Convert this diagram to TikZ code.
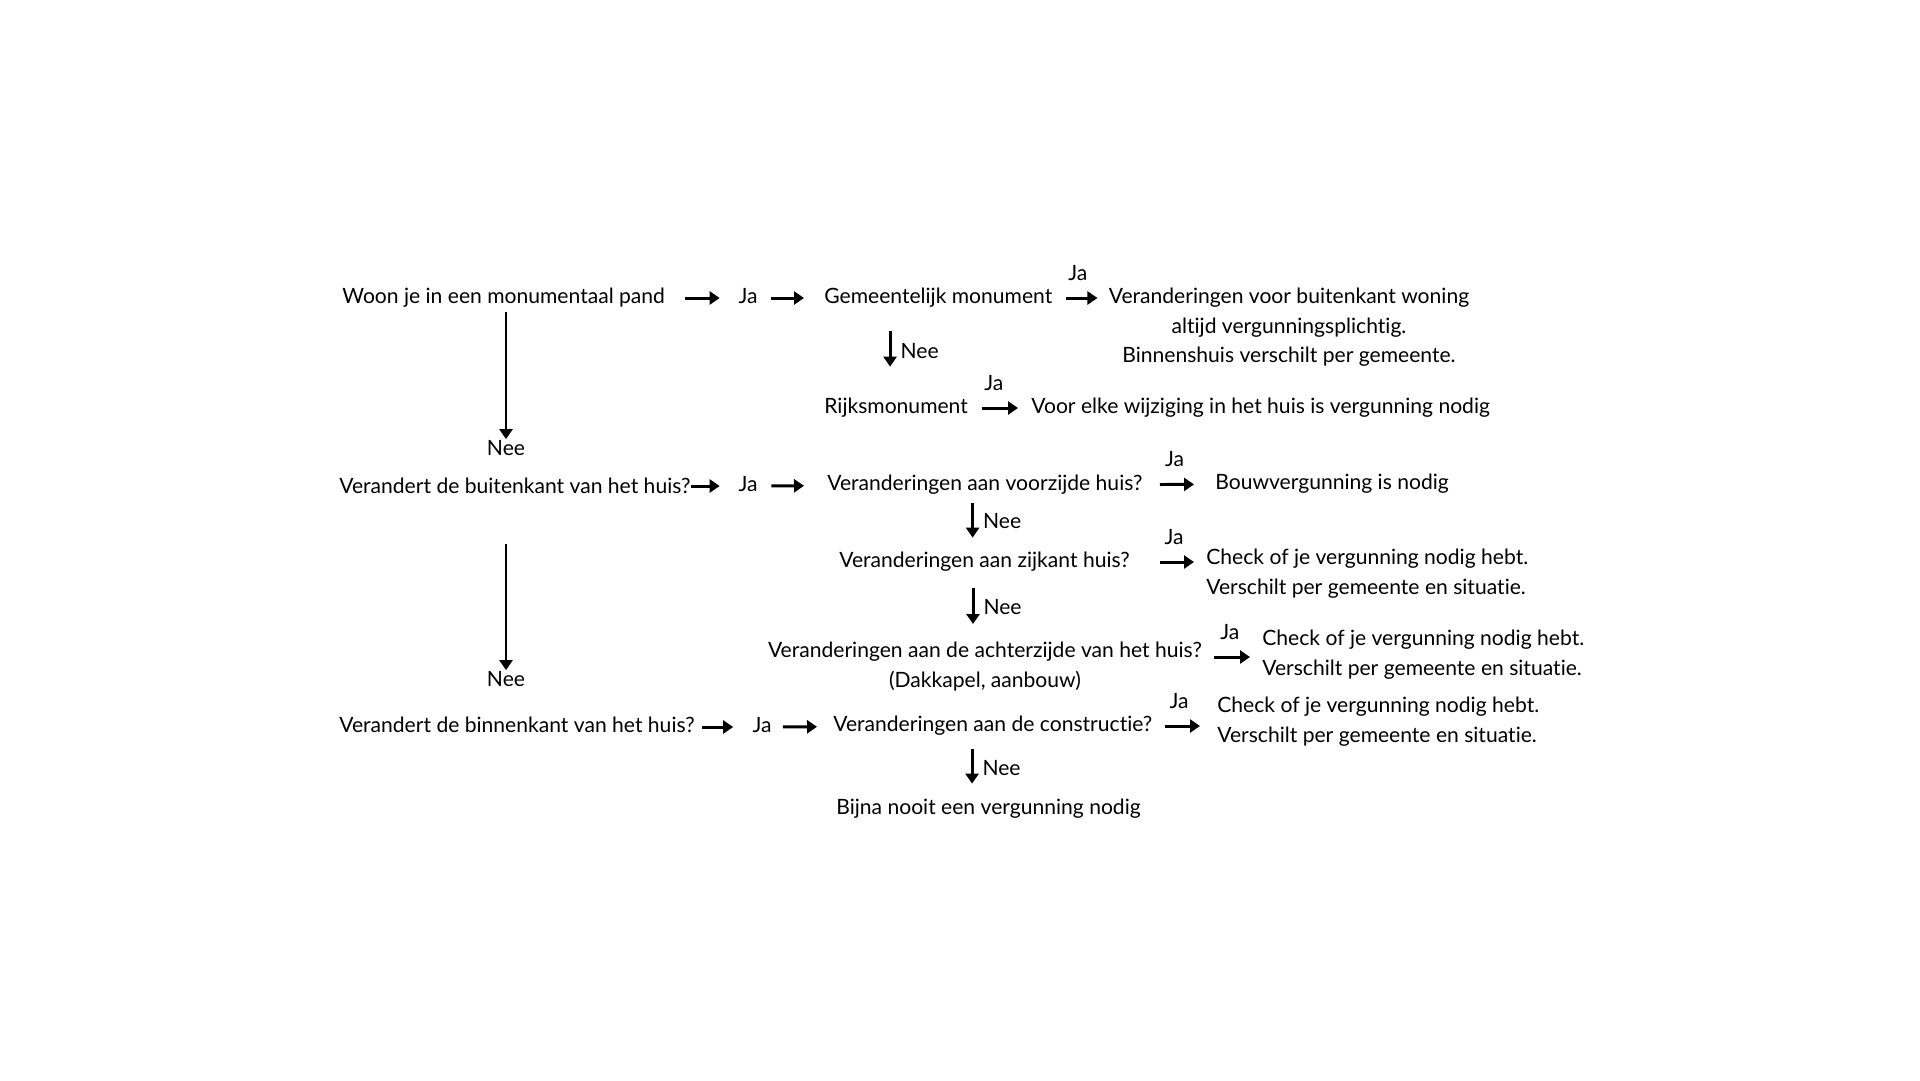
\documentclass[tikz,border=0pt]{standalone}
\usepackage{fontspec}
\setmainfont{Lato}[Ligatures={NoCommon,NoContextual}]
\usetikzlibrary{arrows.meta}
\tikzset{
  txt/.style={inner sep=0, text height=9pt, text depth=3pt},
  multi/.style={inner sep=0},
  arr/.style={line width=1.7pt, -{Triangle[length=0.2cm,width=0.26cm]}},
  ja/.style={txt, above=0.22cm},
  nee/.style={txt, right=0.18cm},
}
\begin{document}
\begin{tikzpicture}[x=0.02cm, y=-0.02cm, font=\fontsize{12}{16.8}\selectfont]
  \fill[white] (0,-3) rectangle (1920,1077);
  % monument
  \node[txt, anchor=west] (woon) at (342,295) {Woon je in een monumentaal pand};
  \node[txt] (ja1) at (748,295) {Ja};
  \node[txt, anchor=west] (gem) at (824,295) {Gemeentelijk monument};
  \node[multi, align=center, anchor=north] (bui) at (1289,285)
    {Veranderingen voor buitenkant woning\\altijd vergunningsplichtig.\\Binnenshuis verschilt per gemeente.};
  \node[txt, anchor=west] (rijk) at (824,405) {Rijksmonument};
  \node[txt, anchor=west] (wijz) at (1031,405) {Voor elke wijziging in het huis is vergunning nodig};
  % buitenkant
  \node[txt] (nee1) at (506,447) {Nee};
  \node[txt, anchor=west] (buiten) at (339,485) {Verandert de buitenkant van het huis?};
  \node[txt] (ja2) at (748,483) {Ja};
  \node[txt, anchor=west] (voor) at (827,482) {Veranderingen aan voorzijde huis?};
  \node[txt, anchor=west] (bouw) at (1215,481) {Bouwvergunning is nodig};
  \node[txt, anchor=west] (zij) at (839,559) {Veranderingen aan zijkant huis?};
  \node[multi, align=left, anchor=north west] (chk1) at (1206,546)
    {Check of je vergunning nodig hebt.\\Verschilt per gemeente en situatie.};
  \node[multi, align=center, anchor=north] (achter) at (985,639)
    {Veranderingen aan de achterzijde van het huis?\\(Dakkapel, aanbouw)};
  \node[multi, align=left, anchor=north west] (chk2) at (1262,627)
    {Check of je vergunning nodig hebt.\\Verschilt per gemeente en situatie.};
  % binnenkant
  \node[txt] (nee2) at (506,678) {Nee};
  \node[txt, anchor=west] (binnen) at (339,724) {Verandert de binnenkant van het huis?};
  \node[txt] (ja3) at (762,724) {Ja};
  \node[txt, anchor=west] (con) at (833,723) {Veranderingen aan de constructie?};
  \node[multi, align=left, anchor=north west] (chk3) at (1217,694)
    {Check of je vergunning nodig hebt.\\Verschilt per gemeente en situatie.};
  \node[txt, anchor=west] (bijna) at (836,806) {Bijna nooit een vergunning nodig};

  \draw[arr, shorten <=0.4cm, shorten >=0.37cm] (woon) -- (ja1);
  \draw[arr, shorten <=0.27cm, shorten >=0.4cm] (ja1) -- (gem);
  \draw[arr, shorten <=0.26cm, shorten >=0.22cm] (gem.east) -- (gem -| bui.west)
    node[ja, pos=0.45] {Ja};
  \draw[arr, shorten <=0.45cm, shorten >=0.61cm] ([xshift=-0.12cm]rijk.north |- gem.south) -- ([xshift=-0.12cm]rijk.north)
    node[nee, pos=0.5] {Nee};
  \draw[arr, shorten <=0.28cm, shorten >=0.26cm] (rijk) -- (wijz)
    node[ja, pos=0.41] {Ja};
  \draw[arr, shorten <=0.07cm] (nee1 |- woon.south) -- (nee1.north);

  \draw[arr, shorten >=0.37cm] (buiten.east |- ja2) -- (ja2);
  \draw[arr, shorten <=0.27cm, shorten >=0.46cm] (ja2) -- (voor);
  \draw[arr, shorten <=0.34cm, shorten >=0.42cm] (voor) -- (bouw)
    node[ja, pos=0.44] {Ja};
  \draw[arr, shorten <=0.15cm, shorten >=0.27cm] ([xshift=-0.24cm]zij.north |- voor.south) -- ([xshift=-0.24cm]zij.north)
    node[nee, pos=0.49] {Nee};
  \draw[arr, shorten <=0.6cm, shorten >=0.24cm] (zij) -- (zij -| chk1.west)
    node[ja, pos=0.58] {Ja};
  \draw[arr, shorten <=0.31cm, shorten >=0.36cm] ([xshift=-0.24cm]achter.north |- zij.south) -- ([xshift=-0.24cm]achter.north)
    node[nee, pos=0.53] {Nee};
  \draw[arr, shorten <=0.24cm, shorten >=0.24cm] ([yshift=-0.3cm]achter.north east) -- ([yshift=-0.3cm]achter.north east -| chk2.west)
    node[ja, pos=0.46] {Ja};
  \draw[arr, shorten <=0.91cm] (nee2 |- buiten.south) -- (nee2.north);

  \draw[arr, shorten <=0.14cm, shorten >=0.38cm] (binnen) -- (ja3);
  \draw[arr, shorten <=0.22cm, shorten >=0.32cm] (ja3) -- (con);
  \draw[arr, shorten <=0.24cm, shorten >=0.34cm] (con) -- (con -| chk3.west)
    node[ja, pos=0.41] {Ja};
  \draw[arr, shorten <=0.25cm, shorten >=0.29cm] ([xshift=-0.33cm]bijna.north |- con.south) -- ([xshift=-0.33cm]bijna.north)
    node[nee, pos=0.54] {Nee};
\end{tikzpicture}
\end{document}
